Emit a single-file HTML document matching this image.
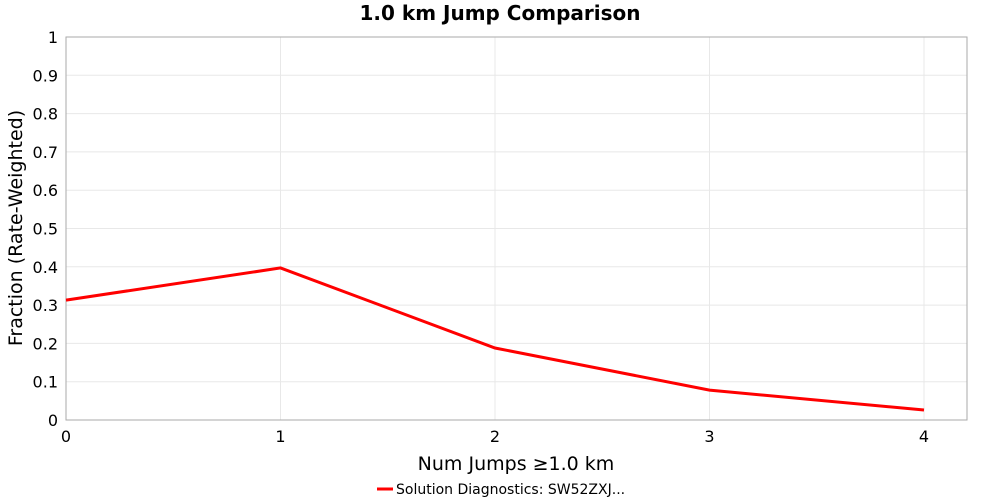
<!DOCTYPE html>
<html><head><meta charset="utf-8"><style>
body{margin:0;background:#fff;font-family:"DejaVu Sans","Liberation Sans",sans-serif;}
svg text{font-family:"DejaVu Sans","Liberation Sans",sans-serif;}
</style></head><body>
<svg id="chart" width="1000" height="500" xmlns="http://www.w3.org/2000/svg">
<text x="500" y="20" text-anchor="middle" font-size="20" font-weight="bold">1.0 km Jump Comparison</text>
<g id="grid"></g>
<rect x="66" y="37" width="901" height="383" fill="none" stroke="#aaa"/>
<g id="ticks"></g>
<polyline id="line" fill="none" stroke="#ff0000" stroke-width="3"/>
<text x="516" y="470" text-anchor="middle" font-size="19">Num Jumps ≥1.0 km</text>
<text transform="translate(22,228) rotate(-90)" text-anchor="middle" font-size="19">Fraction (Rate-Weighted)</text>
<g>
<line x1="377" y1="489" x2="393" y2="489" stroke="#ff0000" stroke-width="3"/>
<text x="396" y="494" font-size="14">Solution Diagnostics: SW52ZXJ...</text>
</g>
</svg>
<script>
const categories=[0,1,2,3,4];
const values=[0.313,0.397,0.188,0.078,0.026];
const yTicks=[0,0.1,0.2,0.3,0.4,0.5,0.6,0.7,0.8,0.9,1];
const yTickLabels=["0","0.1","0.2","0.3","0.4","0.5","0.6","0.7","0.8","0.9","1"];
const NS="http://www.w3.org/2000/svg";
const xs=v=>66+v*214.5;
const ys=v=>420-v*383;
const grid=document.getElementById('grid'),ticks=document.getElementById('ticks');
function mk(tag,attrs,parent){const e=document.createElementNS(NS,tag);for(const k in attrs)e.setAttribute(k,attrs[k]);parent.appendChild(e);return e;}
yTicks.forEach((t,i)=>{
 const g=mk('line',{x1:66,x2:967,y1:ys(t),y2:ys(t),stroke:'#e8e8e8'},grid);
 
 
 const tx=mk('text',{x:58,y:ys(t)+6,'text-anchor':'end','font-size':16},ticks);
 tx.textContent=yTickLabels[i];
 
 
});
categories.forEach(c=>{
 const g=mk('line',{x1:xs(c),x2:xs(c),y1:37,y2:420,stroke:'#e8e8e8'},grid);
 
 
 const tx=mk('text',{x:xs(c),y:442,'text-anchor':'middle','font-size':16},ticks);
 tx.textContent=String(c);
 
 
});
document.getElementById('line').setAttribute('points',categories.map((c,i)=>xs(c)+','+ys(values[i])).join(' '));
</script>
</body></html>
